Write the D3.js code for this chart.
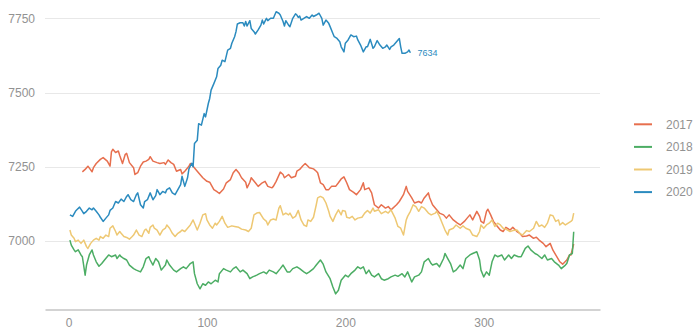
<!DOCTYPE html>
<html><head><meta charset="utf-8">
<script src="https://cdn.jsdelivr.net/npm/d3@7"></script>
<style>html,body{margin:0;padding:0;background:#fff;}svg{display:block;font-family:"Liberation Sans",Arial,sans-serif;}</style>
</head><body><svg id="c" width="700" height="336"></svg>
<script>
const seriesNames = ["2017","2018","2019","2020"];
const seriesColors = ["#e76f4e","#4cad64","#eec873","#2b8bbf"];
const xTicks = [0,100,200,300];
const yTicks = [7000,7250,7500,7750];

const days2017 = [10,12,14,17,18,20,23,25,28,30,31,32,34,36,37,39,41,42,44,47,48,50,52,54,56,58,59,61,64,66,69,70,72,74,76,78,81,82,84,87,88,90,93,95,97,100,102,105,107,109,112,114,117,119,121,123,125,128,129,131,132,135,137,140,142,144,147,148,150,153,155,156,159,161,164,165,167,169,171,173,174,177,179,180,182,184,186,188,190,193,195,197,199,201,203,206,208,211,213,214,217,219,221,224,226,229,231,233,237,239,242,244,245,248,250,253,255,257,260,261,263,266,268,271,273,275,278,281,283,286,288,290,292,295,297,298,300,302,303,305,307,309,312,314,316,319,321,324,326,328,331,333,336,338,340,343,345,348,350,352,355,357,360,362,363,365];
const vals2017 = [7233,7241,7252,7233,7247,7261,7275,7281,7269,7252,7300,7309,7298,7303,7288,7261,7292,7295,7264,7247,7224,7230,7252,7266,7269,7275,7284,7269,7264,7261,7264,7258,7273,7264,7258,7235,7241,7226,7235,7252,7261,7252,7235,7224,7213,7201,7198,7173,7167,7160,7175,7196,7207,7230,7241,7230,7213,7198,7179,7198,7213,7196,7184,7196,7201,7184,7179,7184,7201,7232,7224,7213,7224,7213,7218,7235,7241,7252,7261,7252,7247,7243,7235,7230,7196,7190,7173,7173,7184,7184,7196,7209,7216,7196,7173,7164,7156,7173,7196,7173,7179,7162,7122,7111,7122,7111,7116,7105,7122,7133,7156,7184,7167,7145,7128,7133,7128,7145,7162,7145,7122,7105,7094,7088,7077,7088,7071,7060,7054,7066,7077,7088,7071,7100,7083,7066,7060,7100,7107,7088,7066,7054,7037,7032,7046,7037,7046,7032,7026,7015,7017,7020,7009,7013,7003,6992,6981,6992,6969,6953,6930,6922,6936,6953,6953,6990];

const days2018 = [1,2,4,5,7,9,10,12,13,15,17,18,20,22,24,26,29,31,34,35,37,38,40,42,44,47,49,52,54,56,58,59,61,63,65,67,70,71,73,76,78,81,83,85,88,90,91,93,95,97,99,101,103,106,108,109,112,114,117,119,121,124,126,129,131,133,136,138,141,143,145,148,150,153,155,158,160,162,165,167,170,172,174,177,179,182,184,186,189,191,193,195,197,200,202,204,207,209,211,213,215,217,219,221,224,226,228,231,233,236,238,241,243,245,248,250,253,255,257,260,262,263,266,268,271,272,274,276,278,280,283,285,287,290,292,295,297,298,300,302,304,306,308,310,313,315,318,320,322,325,327,330,332,334,337,339,342,344,346,349,351,354,356,359,360,362,364,365];
const vals2018 = [7003,6986,6970,6964,6970,6953,6947,6885,6919,6953,6970,6953,6930,6915,6924,6936,6953,6947,6953,6941,6953,6947,6941,6936,6919,6907,6902,6896,6913,6941,6947,6936,6919,6941,6930,6902,6919,6936,6919,6902,6896,6907,6913,6907,6924,6930,6890,6856,6839,6856,6851,6862,6856,6868,6862,6890,6907,6902,6896,6907,6913,6896,6902,6890,6873,6879,6885,6890,6896,6890,6902,6896,6890,6907,6919,6896,6896,6907,6913,6907,6896,6890,6896,6907,6919,6936,6922,6896,6873,6845,6822,6834,6868,6885,6879,6890,6902,6913,6907,6913,6890,6902,6885,6879,6890,6873,6868,6873,6879,6885,6881,6890,6879,6896,6862,6879,6885,6896,6930,6941,6924,6919,6924,6913,6941,6958,6941,6924,6896,6902,6919,6907,6941,6953,6958,6964,6936,6902,6879,6896,6885,6930,6953,6947,6953,6936,6953,6941,6953,6947,6947,6975,6983,6970,6958,6953,6941,6953,6936,6941,6930,6919,6907,6919,6924,6953,6958,7031];

const days2019 = [1,2,4,5,7,9,11,13,14,16,18,20,22,23,25,27,29,30,32,34,35,37,38,40,42,44,46,47,49,51,53,55,56,58,59,61,62,64,66,68,70,71,73,75,77,79,81,82,84,86,88,90,91,93,95,97,99,100,102,104,106,107,109,111,113,115,118,120,123,125,128,130,132,134,136,138,141,143,144,146,148,150,152,153,155,157,159,160,162,164,166,168,170,172,173,175,177,179,180,182,184,186,188,189,191,193,195,197,198,200,201,203,205,207,209,212,214,216,218,220,221,224,226,229,231,233,236,238,240,242,244,245,247,249,251,253,255,257,260,262,265,266,268,270,272,274,275,278,280,283,285,287,290,292,295,297,298,300,302,304,306,308,310,312,314,316,319,321,324,326,328,331,333,336,338,340,342,344,346,348,350,352,354,355,357,359,361,363,364,365];
const vals2019 = [7037,7020,7009,6998,7003,6992,7003,6981,6975,6992,7003,7009,7003,7015,7009,7020,7015,7043,7051,7032,7020,7032,7026,7015,7012,7006,7015,7020,7037,7020,7015,7037,7040,7026,7046,7054,7043,7037,7020,7037,7043,7054,7043,7026,7015,7026,7032,7037,7032,7043,7054,7071,7060,7037,7060,7088,7092,7071,7054,7043,7060,7054,7066,7083,7060,7046,7051,7049,7046,7040,7037,7032,7043,7088,7094,7096,7074,7066,7054,7071,7074,7071,7111,7119,7088,7094,7088,7094,7077,7083,7103,7071,7054,7049,7071,7066,7080,7122,7145,7150,7145,7128,7100,7083,7066,7088,7105,7088,7103,7100,7080,7077,7083,7071,7077,7080,7094,7103,7094,7111,7100,7105,7092,7100,7094,7105,7077,7049,7043,7020,7071,7083,7100,7122,7116,7100,7116,7111,7094,7088,7094,7100,7083,7060,7037,7020,7037,7043,7054,7043,7051,7043,7037,7020,7015,7032,7054,7043,7054,7060,7071,7049,7060,7054,7043,7040,7032,7035,7037,7026,7020,7035,7032,7043,7066,7049,7054,7046,7060,7088,7085,7066,7071,7054,7062,7054,7060,7066,7071,7094];

const days2020 = [1,3,5,6,8,10,11,13,15,17,18,20,22,23,25,27,29,30,32,34,36,38,40,42,43,45,47,49,50,52,54,55,57,59,61,63,64,66,68,70,71,73,75,77,79,81,82,84,86,87,89,90,91,93,94,96,98,99,101,102,103,105,107,108,110,111,113,115,117,118,120,121,122,124,126,127,128,129,131,132,134,135,137,139,140,141,143,144,146,148,150,152,153,155,156,157,159,160,162,164,165,166,167,168,170,172,174,176,177,179,181,183,184,186,188,189,191,192,194,196,197,199,200,202,204,206,208,209,211,213,215,216,218,220,221,223,225,227,229,230,232,233,235,237,239,240,241,243,245,246,247];
const vals2020 = [7088,7083,7100,7105,7114,7100,7092,7100,7111,7105,7111,7100,7088,7080,7066,7077,7088,7103,7111,7133,7128,7141,7133,7150,7156,7139,7133,7156,7162,7122,7111,7133,7139,7162,7139,7153,7173,7156,7167,7162,7173,7179,7162,7156,7173,7190,7218,7184,7213,7243,7262,7250,7328,7339,7395,7390,7429,7418,7463,7480,7508,7530,7553,7581,7592,7609,7604,7643,7649,7666,7688,7705,7731,7735,7735,7724,7739,7724,7742,7716,7705,7697,7711,7727,7744,7731,7750,7742,7750,7750,7772,7767,7761,7739,7724,7742,7727,7722,7750,7765,7761,7753,7758,7744,7750,7756,7750,7761,7756,7761,7767,7750,7727,7744,7733,7722,7699,7688,7682,7671,7654,7637,7666,7677,7694,7688,7690,7677,7660,7637,7654,7654,7679,7649,7654,7675,7660,7649,7654,7660,7645,7654,7660,7671,7682,7654,7632,7632,7637,7643,7634];

const allDays = [days2017, days2018, days2019, days2020];
const allVals = [vals2017, vals2018, vals2019, vals2020];

const svg = d3.select("#c");
const x = d3.scaleLinear().domain([-17, 384]).range([45, 600]);
const y = d3.scaleLinear().domain([6770, 7750]).range([309.3, 18.3]);

// grid
svg.append("g").selectAll("line").data(yTicks).join("line")
  .attr("x1", 45).attr("x2", 600)
  .attr("y1", d => Math.round(y(d)) + 0.5).attr("y2", d => Math.round(y(d)) + 0.5)
  .attr("stroke", "#e8e8e8").attr("stroke-width", 1);

// y labels
svg.append("g").selectAll("text").data(yTicks).join("text")
  .attr("x", 35).attr("y", d => y(d)).attr("dy", "0.35em")
  .attr("text-anchor", "end").attr("font-size", 12).attr("fill", "#929292")
  .text(d => d);

// x axis
const xAxis = d3.axisBottom(x).tickValues(xTicks).tickSize(0).tickPadding(9).tickFormat(d3.format("d"));
const gx = svg.append("g").attr("transform", "translate(0,309.5)").call(xAxis);
gx.select(".domain").attr("stroke", "#a8a8a8").attr("stroke-width", 1.2);
gx.selectAll("text").attr("font-size", 12).attr("fill", "#929292").attr("font-family", "Liberation Sans, Arial, sans-serif");

// lines
const line = d3.line().x(d => x(d[0])).y(d => y(d[1]));
seriesNames.forEach((name, i) => {
  const pts = allDays[i].map((d, j) => [d, allVals[i][j]]);
  svg.append("path").datum(pts)
    .attr("fill", "none").attr("stroke", seriesColors[i])
    .attr("stroke-width", 1.5).attr("stroke-linejoin", "round")
    .attr("d", line);
});

// end label for 2020
const lastDay = days2020[days2020.length - 1];
const lastVal = vals2020[vals2020.length - 1];
svg.append("text").attr("x", x(lastDay) + 7).attr("y", y(lastVal)).attr("dy", "0.35em")
  .attr("font-size", 9).attr("fill", seriesColors[3]).text(lastVal);

// legend
const lg = svg.append("g");
seriesNames.forEach((name, i) => {
  const ly = 124.3 + i * 22.6;
  lg.append("line").attr("x1", 634).attr("x2", 652).attr("y1", ly).attr("y2", ly)
    .attr("stroke", seriesColors[i]).attr("stroke-width", 2);
  lg.append("text").attr("x", 666).attr("y", ly).attr("dy", "0.35em")
    .attr("font-size", 12).attr("fill", "#929292").text(name);
});
</script></body></html>
